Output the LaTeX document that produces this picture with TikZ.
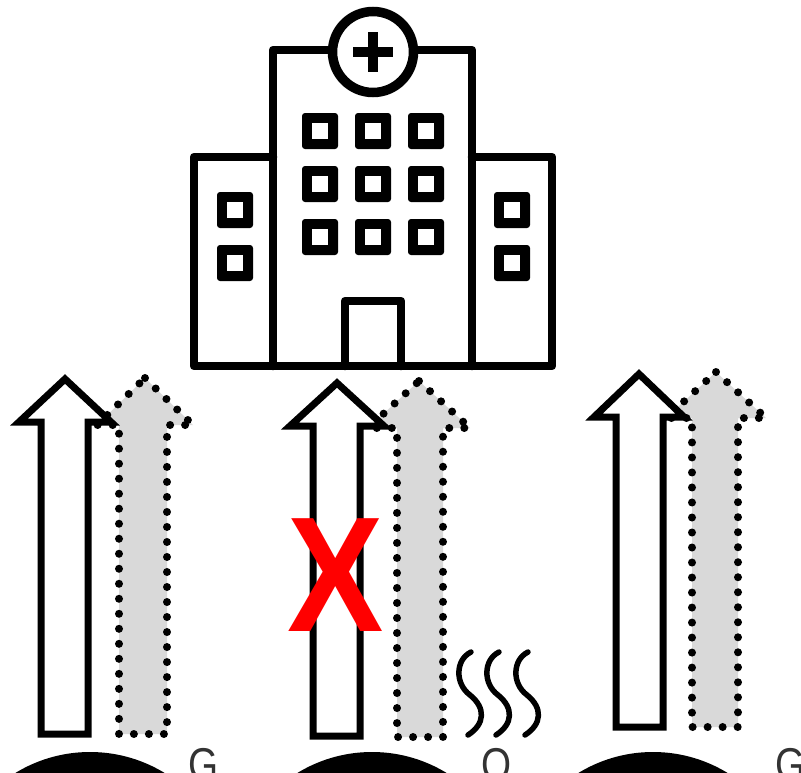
\documentclass[tikz,border=0pt]{standalone}
\usepackage{fontspec}
\setmainfont{Liberation Sans}
\newcommand{\whitearrow}[7]{% tip x, tip y, head half, base y, shaft left, shaft right, bottom
  \draw[whitearr] (#1,#2) -- ({#1+#3},#4) -- (#6,#4) -- (#6,#7) -- (#5,#7) -- (#5,#4) -- ({#1-#3},#4) -- cycle;}
\newcommand{\greyarrow}[7]{%
  \fill[greyfill] (#1,#2) -- ({#1+#3},#4) -- (#6,#4) -- (#6,#7) -- (#5,#7) -- (#5,#4) -- ({#1-#3},#4) -- cycle;
  \draw[greyarr] (#1,#2) -- ({#1+#3},#4) -- (#6,#4) -- (#6,#7) -- (#5,#7) -- (#5,#4) -- ({#1-#3},#4) -- cycle;}
\tikzset{
  whitearr/.style={draw=black,fill=white,line width=7pt,miter limit=10},
  greyfill/.style={fill=greyshade},
  greyarr/.style={draw=black,line width=8pt,line cap=round,dash pattern=on 0.01pt off 15pt},
  wall/.style={draw=black,line width=8.5pt,line join=round,line cap=round},
  paneout/.style={fill=black,rounded corners=3pt},
  panein/.style={fill=white},
  steam/.style={draw=black,line width=5.5pt,line cap=round},
  letter/.style={inner sep=0pt,anchor=base,font=\fontsize{46}{46}\selectfont,xscale=.84,text=black!80},
}
\definecolor{greyshade}{HTML}{D9D9D9}
\begin{document}
\begin{tikzpicture}[x=1pt,y=-1pt]
\useasboundingbox (0,0) rectangle (801,772);
\clip (0,0) rectangle (801,772);
\fill[white] (0,0) rectangle (801,772);
% hospital
\draw[wall] (273,366) -- (273,50) -- (472,50) -- (472,366);
\draw[wall] (273,157) -- (194,157) -- (194,366) -- (552,366) -- (552,157) -- (472,157);
\draw[wall] (345,366) -- (345,301) -- (401,301) -- (401,366);
\draw[draw=black,fill=white,line width=9.5pt] (373,52) circle (40.5pt);
\draw[black,line width=10pt] (373,32) -- (373,72);
\draw[black,line width=10pt] (353,52) -- (393,52);
\foreach \px in {320,373,426} \foreach \py in {131,184,237} {
  \fill[paneout] ({\px-18},{\py-18}) rectangle ({\px+18},{\py+18});
  \fill[panein] ({\px-8},{\py-8}) rectangle ({\px+8},{\py+8});
}
\foreach \px in {235,512} \foreach \py in {210,263} {
  \fill[paneout] ({\px-18},{\py-18}) rectangle ({\px+18},{\py+18});
  \fill[panein] ({\px-8},{\py-8}) rectangle ({\px+8},{\py+8});
}
% arrows
\greyarrow{145}{378}{48}{425}{119}{167}{734}
\whitearrow{65}{379}{46}{422}{41}{88}{734}
\greyarrow{419}{381}{51}{428}{397}{443}{737}
\whitearrow{337}{383}{47}{426}{313}{360}{736}
\greyarrow{716}{372}{50}{418}{692}{738}{727}
\whitearrow{639}{374}{45}{417}{616}{663}{727}
% red X
\node[inner sep=0pt,text=red,xscale=.88,font=\fontsize{164}{164}\selectfont\bfseries] (cross) at (335.5,575.5) {X};
% steam
\foreach \dx in {0,28,57}
  \draw[steam,xshift=\dx pt] (471,652) .. controls (455,660) and (455,684) .. (470,695) .. controls (486,708) and (485,724) .. (468,735);
% bottom discs
\fill[black] (90,895) circle (143pt);
\fill[black] (372,895) circle (143pt);
\fill[black] (653,895) circle (143pt);
% cropped letters
\node[letter] (g1) at (204,780) {G};
\node[letter] (o1) at (497,780) {O};
\node[letter] (g2) at (791,780) {G};
\end{tikzpicture}
\end{document}
